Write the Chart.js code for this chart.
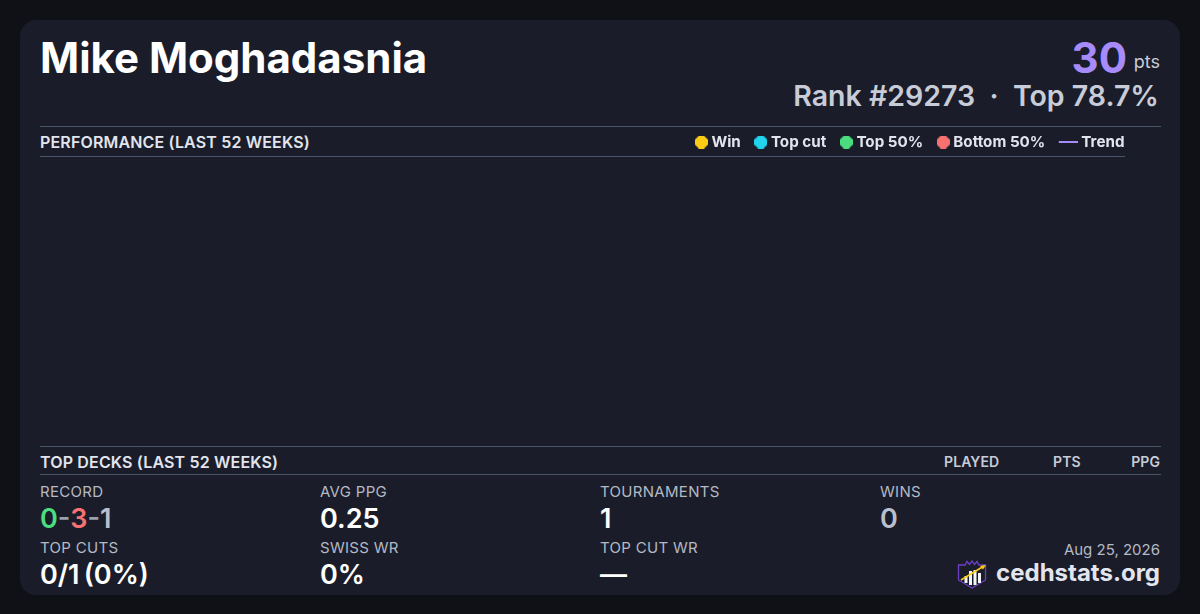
<!DOCTYPE html>
<html>
<head>
<meta charset="utf-8">
<title>Mike Moghadasnia</title>
<script src="https://cdn.jsdelivr.net/npm/chart.js@4"></script>
<style>
html, body { margin: 0; padding: 0; width: 1200px; height: 614px; overflow: hidden; background: #0f1116; }
body { font-family: Inter, sans-serif; position: relative; }
.card { position: absolute; left: 20px; top: 20px; width: 1160px; height: 575px; background: #1a1d29; border-radius: 16px; }
.t { position: absolute; white-space: nowrap; line-height: 1; }
.r { text-align: right; }
.rule { position: absolute; left: 40px; height: 1px; background: #475569; }
.sec { font-size: 16px; font-weight: 600; letter-spacing: 0.16px; color: #e2e5ee; }
.col { font-size: 14px; font-weight: 600; letter-spacing: 0.1px; color: #c8ccd8; }
.lab { font-size: 15px; letter-spacing: 0.3px; color: #b4b9c6; }
.val { font-size: 27px; font-weight: 600; color: #fff; }
#chartWrap { position: absolute; left: 40px; top: 117px; width: 1102px; height: 329px; }
</style>
</head>
<body>
<div class="card"></div>

<div class="t" style="left:40px;top:37px;font-size:42px;font-weight:700;color:#fff">Mike Moghadasnia</div>
<div class="t r" style="right:73px;top:37px;font-size:42px;font-weight:700;color:#a78bfa">30</div>
<div class="t r" style="right:40px;top:53px;font-size:18px;color:#c8ccd8">pts</div>
<div class="t r" style="right:41px;top:82px;font-size:28.5px;font-weight:600;color:#c8ccd8">Rank #29273 &nbsp;·&nbsp; Top 78.7%</div>

<div class="rule" style="top:126px;width:1121px"></div>
<div class="t sec" style="left:40px;top:134px">PERFORMANCE (LAST 52 WEEKS)</div>
<div class="rule" style="top:156px;width:1085px"></div>

<div id="chartWrap"><canvas id="perfChart"></canvas></div>

<div class="rule" style="top:446px;width:1121px"></div>
<div class="t sec" style="left:40px;top:454px">TOP DECKS (LAST 52 WEEKS)</div>
<div class="t col" style="left:944px;top:455px">PLAYED</div>
<div class="t col" style="left:1053px;top:455px">PTS</div>
<div class="t col r" style="right:40px;top:455px">PPG</div>
<div class="rule" style="top:474px;width:1121px"></div>

<div class="t lab" style="left:40px;top:484px">RECORD</div>
<div class="t val" style="left:40px;top:505px"><span style="color:#4ade80">0</span><span style="color:#9aa0ae">-</span><span style="color:#f87171">3</span><span style="color:#9aa0ae">-</span><span style="color:#b9bfcc">1</span></div>
<div class="t lab" style="left:320px;top:484px">AVG PPG</div>
<div class="t val" style="left:320px;top:505px">0.25</div>
<div class="t lab" style="left:600px;top:484px">TOURNAMENTS</div>
<div class="t val" style="left:600px;top:505px">1</div>
<div class="t lab" style="left:880px;top:484px">WINS</div>
<div class="t val" style="left:880px;top:505px;color:#b9bfcc">0</div>

<div class="t lab" style="left:40px;top:540px">TOP CUTS</div>
<div class="t val" style="left:40px;top:561px;word-spacing:-2.5px">0/1 (0%)</div>
<div class="t lab" style="left:320px;top:540px">SWISS WR</div>
<div class="t val" style="left:320px;top:561px">0%</div>
<div class="t lab" style="left:600px;top:540px">TOP CUT WR</div>
<div class="t val" style="left:600px;top:561px">—</div>

<div class="t lab r" style="right:40px;top:542px;letter-spacing:0">Aug 25, 2026</div>
<svg style="position:absolute;left:957px;top:560px" width="30" height="30" viewBox="0 0 30 30">
  <path d="M1.5 5 L8 5 L10 1.5 L12.5 4.5 L15 1 L17.5 4.5 L20 1.5 L22 5 L28.5 5 L28.5 20 L15 28 L1.5 20 Z" fill="#1a1d29" stroke="#6d3fc4" stroke-width="1.3"/>
  <rect x="7.5" y="16" width="3" height="7" fill="#f1f5f9"/>
  <rect x="12" y="11" width="3" height="14" fill="#f1f5f9"/>
  <rect x="16.5" y="10" width="3" height="15" fill="#f1f5f9"/>
  <rect x="21" y="13" width="3" height="10" fill="#f1f5f9"/>
  <path d="M4 20 L27 6" stroke="#facc15" stroke-width="1.5"/>
  <path d="M29 5 L23 6 L26 9.5 Z" fill="#facc15"/>
</svg>
<div class="t r" style="right:40px;top:561px;font-size:24px;font-weight:700;color:#e2e5ee">cedhstats.org</div>

<script>
// categories of the legend
const seriesNames = ["Win", "Top cut", "Top 50%", "Bottom 50%", "Trend"];
const seriesColors = ["#facc15", "#22d3ee", "#4ade80", "#f87171", "#a78bfa"];

// the player has no plotted weeks in the reference, so every series is empty
const winPoints = [];
const topCutPoints = [];
const top50Points = [];
const bottom50Points = [];
const trendPoints = [];

function dotMarker(color) {
    const c = document.createElement("canvas");
    c.width = 13;
    c.height = 13;
    const ctx = c.getContext("2d");
    ctx.fillStyle = color;
    // the reference dots are blocky, nearly octagons
    ctx.beginPath();
    [[4, 0], [9, 0], [13, 4], [13, 9], [9, 13], [4, 13], [0, 9], [0, 4]].forEach(p => ctx.lineTo(p[0], p[1]));
    ctx.closePath();
    ctx.fill();
    return c;
}

function lineMarker(color) {
    const c = document.createElement("canvas");
    c.width = 25;
    c.height = 2;
    const ctx = c.getContext("2d");
    ctx.fillStyle = color;
    ctx.fillRect(6, 0, 19, 2);
    return c;
}

const allPoints = [winPoints, topCutPoints, top50Points, bottom50Points, trendPoints];

new Chart(document.getElementById("perfChart"), {
    type: "scatter",
    data: {
        datasets: seriesNames.map((name, i) => ({
            label: name,
            type: i === 4 ? "line" : "scatter",
            data: allPoints[i],
            borderColor: seriesColors[i],
            backgroundColor: seriesColors[i]
        }))
    },
    options: {
        responsive: true,
        maintainAspectRatio: false,
        animation: false,
        scales: { x: { display: false }, y: { display: false } },
        plugins: {
            tooltip: { enabled: false },
            legend: {
                position: "top",
                align: "end",
                labels: {
                    usePointStyle: true,
                    boxWidth: 5,
                    padding: 17.5,
                    color: "#e2e5ee",
                    font: { family: "Inter", size: 15.2, weight: "700" },
                    generateLabels: chart => seriesNames.map((name, i) => ({
                        text: i === 4 ? "\u2009\u2009\u200a" + name : name,
                        datasetIndex: i,
                        fontColor: "#e2e5ee",
                        lineWidth: 0,
                        strokeStyle: "transparent",
                        fillStyle: seriesColors[i],
                        pointStyle: i === 4 ? lineMarker(seriesColors[i]) : dotMarker(seriesColors[i])
                    }))
                }
            }
        }
    }
});
</script>
</body>
</html>
